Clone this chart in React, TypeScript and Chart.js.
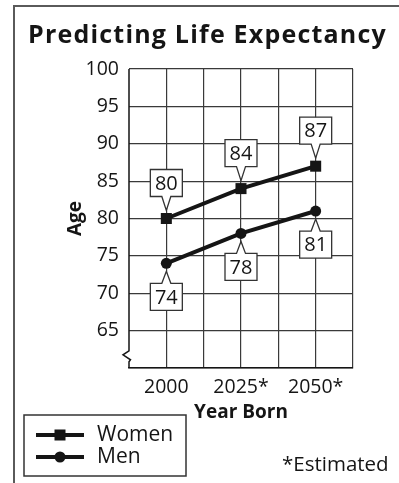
import React, { useEffect, useRef } from 'react';
import { Chart, registerables } from 'chart.js';

Chart.register(...registerables);

const chartTitle = 'Predicting Life Expectancy';
const categories = ['2000', '2025*', '2050*'];
const categoryPositions = [1, 3, 5];
const womenValues = [80, 84, 87];
const menValues = [74, 78, 81];
const seriesLabels = ['Women', 'Men'];
const xAxisTitle = 'Year Born';
const yAxisTitle = 'Age';
const footnote = '*Estimated';

const FONT = "'Open Sans', 'DejaVu Sans', sans-serif";
const INK = '#151515';

const decorPlugin = {
  id: 'decor',
  beforeDraw(chart: any) {
    const ctx = chart.ctx;
    ctx.save();
    ctx.fillStyle = '#ffffff';
    ctx.fillRect(0, 0, chart.width, chart.height);
    // frame
    ctx.strokeStyle = '#5a5a5a';
    ctx.lineWidth = 2;
    ctx.beginPath();
    ctx.moveTo(14, chart.height);
    ctx.lineTo(14, 6);
    ctx.lineTo(chart.width, 6);
    ctx.stroke();
    // title
    ctx.fillStyle = INK;
    ctx.font = `bold 25px ${FONT}`;
    try {
      (ctx as any).letterSpacing = '1.2px';
    } catch (e) {}
    ctx.textAlign = 'left';
    ctx.textBaseline = 'alphabetic';
    ctx.fillText(chartTitle, 28, 43);
    try {
      (ctx as any).letterSpacing = '0px';
    } catch (e) {}
    ctx.restore();
  },
  afterDraw(chart: any) {
    const ctx = chart.ctx;
    const { left, bottom } = chart.chartArea;
    const ys = chart.scales.y;
    ctx.save();
    // y axis with break
    const topY = ys.getPixelForValue(100);
    const breakY = ys.getPixelForValue(62.3);
    ctx.strokeStyle = INK;
    ctx.lineWidth = 1.5;
    ctx.beginPath();
    ctx.moveTo(left, topY);
    ctx.lineTo(left, breakY);
    ctx.lineTo(left - 6, breakY + 4);
    ctx.lineTo(left + 1.5, breakY + 9);
    ctx.lineTo(left, breakY + 11);
    ctx.lineTo(left, bottom);
    ctx.stroke();

    // legend
    ctx.strokeStyle = '#333';
    ctx.lineWidth = 1.5;
    ctx.strokeRect(24, 415, 162, 61);
    const rows = [435, 457];
    chart.data.datasets.forEach((ds: any, i: number) => {
      const y = rows[i];
      ctx.strokeStyle = INK;
      ctx.lineWidth = 4;
      ctx.beginPath();
      ctx.moveTo(36, y);
      ctx.lineTo(84, y);
      ctx.stroke();
      ctx.fillStyle = INK;
      if (ds.pointStyle === 'rect') {
        ctx.fillRect(54.5, y - 5.5, 11, 11);
      } else {
        ctx.beginPath();
        ctx.arc(60, y, 5.5, 0, Math.PI * 2);
        ctx.fill();
      }
      ctx.font = `21px ${FONT}`;
      ctx.textAlign = 'left';
      ctx.textBaseline = 'middle';
      ctx.fillText(ds.label, 97, y);
    });

    // footnote
    ctx.fillStyle = INK;
    ctx.font = `20.5px ${FONT}`;
    ctx.textAlign = 'left';
    ctx.textBaseline = 'middle';
    ctx.fillText(footnote, 282, 465);
    ctx.restore();
  },
  afterDatasetsDraw(chart: any) {
    const ctx = chart.ctx;
    ctx.save();
    chart.data.datasets.forEach((ds: any, di: number) => {
      const meta = chart.getDatasetMeta(di);
      const above = di === 0;
      meta.data.forEach((pt: any, i: number) => {
        const x = pt.x;
        const y = pt.y;
        const w = 32;
        const h = 27;
        const gap = above ? 22 : 20;
        const tip = 8;
        const half = 4.5;
        ctx.beginPath();
        if (above) {
          const b = y - gap;
          const t = b - h;
          ctx.moveTo(x - w / 2, t);
          ctx.lineTo(x + w / 2, t);
          ctx.lineTo(x + w / 2, b);
          ctx.lineTo(x + half, b);
          ctx.lineTo(x, y - tip);
          ctx.lineTo(x - half, b);
          ctx.lineTo(x - w / 2, b);
          ctx.closePath();
        } else {
          const t = y + gap;
          const b = t + h;
          ctx.moveTo(x - w / 2, t);
          ctx.lineTo(x - half, t);
          ctx.lineTo(x, y + tip);
          ctx.lineTo(x + half, t);
          ctx.lineTo(x + w / 2, t);
          ctx.lineTo(x + w / 2, b);
          ctx.lineTo(x - w / 2, b);
          ctx.closePath();
        }
        ctx.fillStyle = '#ffffff';
        ctx.fill();
        ctx.strokeStyle = '#333';
        ctx.lineWidth = 1.3;
        ctx.stroke();
        ctx.fillStyle = INK;
        ctx.font = `20px ${FONT}`;
        ctx.textAlign = 'center';
        ctx.textBaseline = 'middle';
        const cy = above ? y - gap - h / 2 : y + gap + h / 2;
        ctx.fillText(String(ds.data[i].y), x, cy + 1);
      });
    });
    ctx.restore();
  },
};

export default function App() {
  const ref = useRef<HTMLCanvasElement | null>(null);
  useEffect(() => {
    if (!ref.current) return;
    const chart = new Chart(ref.current, {
      type: 'line',
      data: {
        datasets: [
          {
            label: seriesLabels[0],
            data: womenValues.map((v, i) => ({ x: categoryPositions[i], y: v })),
            borderColor: INK,
            backgroundColor: INK,
            borderWidth: 4,
            pointStyle: 'rect',
            pointRadius: 7.8,
            pointBackgroundColor: INK,
            pointBorderColor: INK,
            pointBorderWidth: 0,
          },
          {
            label: seriesLabels[1],
            data: menValues.map((v, i) => ({ x: categoryPositions[i], y: v })),
            borderColor: INK,
            backgroundColor: INK,
            borderWidth: 4,
            pointStyle: 'circle',
            pointRadius: 5.5,
            pointBackgroundColor: INK,
            pointBorderColor: INK,
            pointBorderWidth: 0,
          },
        ],
      },
      options: {
        responsive: false,
        animation: false,
        layout: { padding: { top: 69, right: 46, bottom: 0, left: 0 } },
        plugins: {
          legend: { display: false },
          title: { display: false },
          tooltip: { enabled: false },
        },
        scales: {
          x: {
            type: 'linear',
            min: 0,
            max: 6,
            afterFit: (s: any) => {
              s.height = 115;
            },
            ticks: {
              stepSize: 1,
              autoSkip: false,
              maxRotation: 0,
              padding: 8,
              color: INK,
              font: { family: FONT, size: 19.5 },
              callback: (value: any) => {
                const idx = categoryPositions.indexOf(Number(value));
                return idx >= 0 ? categories[idx] : '';
              },
            },
            grid: {
              color: (c: any) => (c.index === 0 ? 'rgba(0,0,0,0)' : '#3a3a3a'),
              lineWidth: 1.2,
              drawTicks: false,
            },
            border: { display: true, color: INK, width: 1.5 },
            title: {
              display: true,
              text: xAxisTitle,
              color: INK,
              font: { family: FONT, size: 19, weight: 'bold' },
              padding: { top: 0, bottom: 59 },
            },
          },
          y: {
            min: 60,
            max: 100,
            afterFit: (s: any) => {
              s.width = 129;
            },
            ticks: {
              stepSize: 5,
              padding: 10,
              color: INK,
              font: { family: FONT, size: 19.5 },
              callback: (value: any) => (Number(value) === 60 ? '' : String(value)),
            },
            grid: {
              color: '#3a3a3a',
              lineWidth: 1.2,
              drawTicks: false,
            },
            border: { display: false },
            title: {
              display: true,
              text: yAxisTitle,
              color: INK,
              font: { family: FONT, size: 19, weight: 'bold' },
              padding: { top: 64, bottom: 0 },
            },
          },
        },
      },
      plugins: [decorPlugin],
    } as any);
    return () => chart.destroy();
  }, []);
  return (
    <div style={{ position: 'absolute', left: 0, top: 0, width: 399, height: 483 }}>
      <canvas ref={ref} width={399} height={483} />
    </div>
  );
}
